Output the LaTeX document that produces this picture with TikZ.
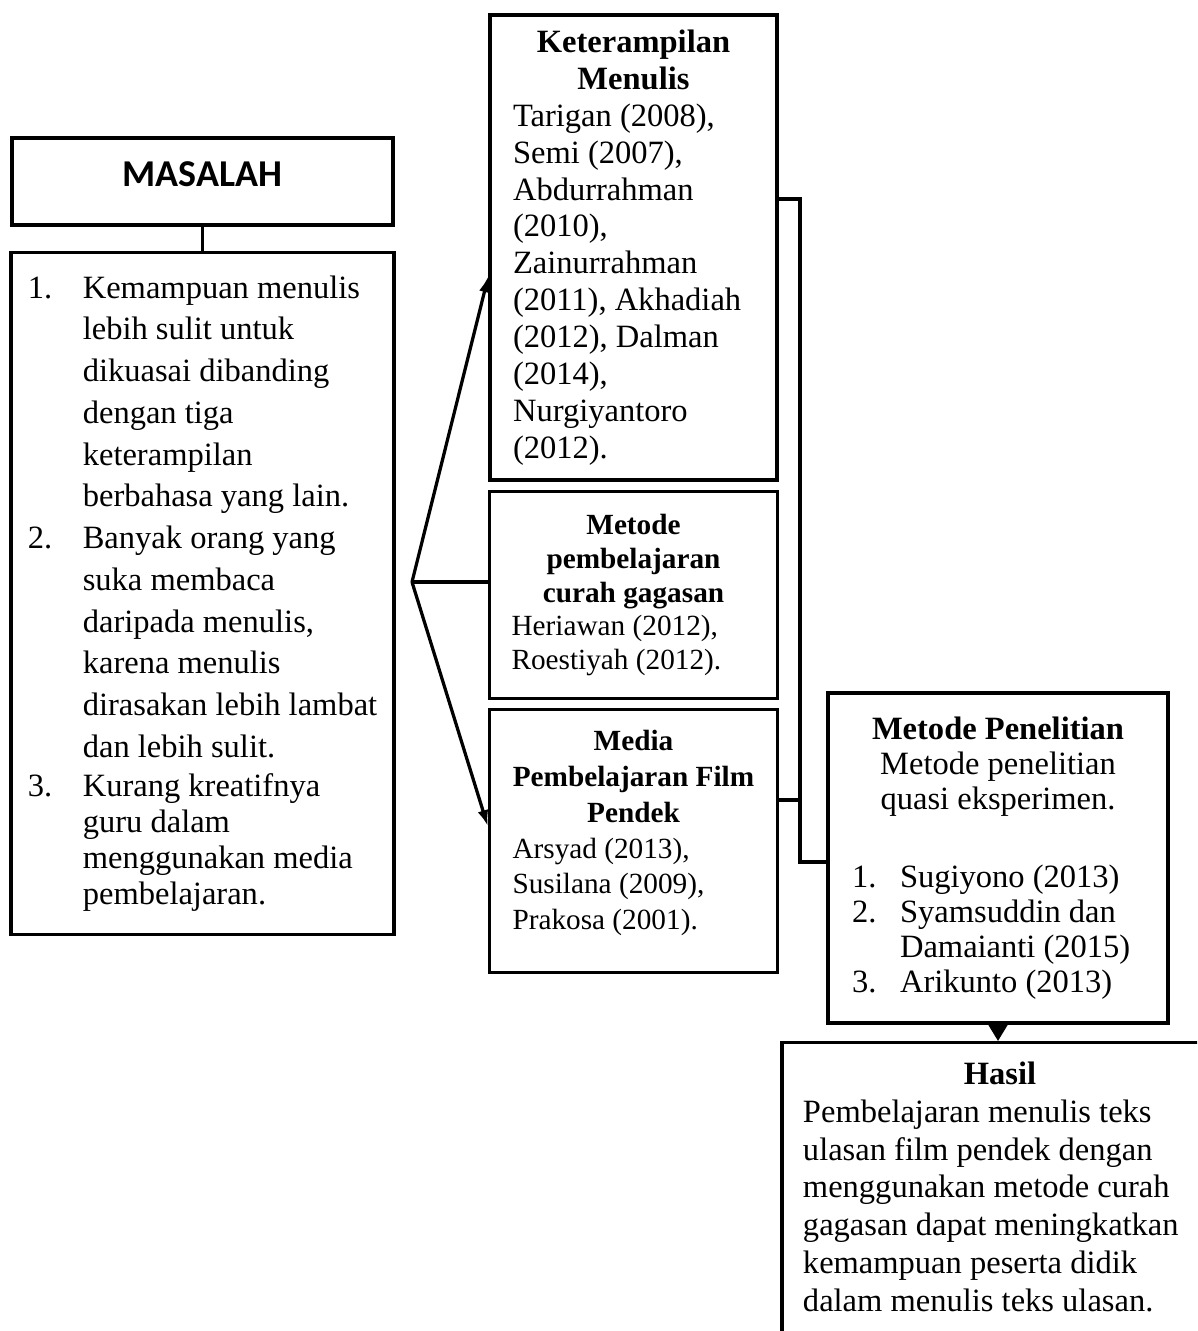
\documentclass[tikz,border=0pt]{standalone}
\usepackage{fontspec}
\setmainfont{Liberation Serif}
\newfontfamily\judulfont{Carlito}
\usetikzlibrary{positioning}
\usetikzlibrary{arrows.meta}
\tikzset{kotak/.style={rectangle,draw=black,fill=white,line width=1.2pt,
inner sep=0pt,align=left}}
\tikzset{kotakjudul/.style={rectangle,draw=black,fill=white,line width=1.2pt,
inner sep=0pt,font=\judulfont\bfseries\fontsize{14pt}{16pt}\selectfont}}
\tikzset{garis/.style={line width=1.2pt}}
\tikzset{panah/.style={line width=1.2pt,-{Latex[length=6pt,width=4pt]}}}

\begin{document}
\begin{tikzpicture}[x=0.369pt,y=-0.369pt]
        \useasboundingbox (0,0) rectangle (1197,1331);
        \clip (0,0) rectangle (1197,1331);

        \node[kotakjudul, minimum width=140.6pt, minimum height=32.1pt,
              text height=9pt, text depth=5pt] (masalah) at (202.5,181.5) {MASALAH};
        \node[kotak, minimum width=141.3pt, minimum height=251.7pt,
              font=\fontsize{12pt}{15.4pt}\selectfont] (daftar) [below=9pt of masalah] {%
            \makebox[20.3pt][l]{1.}Kemampuan menulis\\
            \hspace*{20.3pt}lebih sulit untuk\\
            \hspace*{20.3pt}dikuasai dibanding\\
            \hspace*{20.3pt}dengan tiga\\
            \hspace*{20.3pt}keterampilan\\
            \hspace*{20.3pt}berbahasa yang lain.\\
            \makebox[20.3pt][l]{2.}Banyak orang yang\\
            \hspace*{20.3pt}suka membaca\\
            \hspace*{20.3pt}daripada menulis,\\
            \hspace*{20.3pt}karena menulis\\
            \hspace*{20.3pt}dirasakan lebih lambat\\
            \hspace*{20.3pt}dan lebih sulit.\\[-0.8pt]
            \makebox[20.3pt][l]{3.}Kurang kreatifnya\\[-2.1pt]
            \hspace*{20.3pt}guru dalam\\[-2.1pt]
            \hspace*{20.3pt}menggunakan media\\[-2.1pt]
            \hspace*{20.3pt}pembelajaran.};

        \node[kotak, minimum width=105.9pt, minimum height=171.6pt,
              font=\fontsize{12pt}{13.6pt}\selectfont] (menulis) at (633.5,247.5) {%
            \makebox[88.9pt]{\bfseries Keterampilan}\\
            \makebox[88.9pt]{\bfseries Menulis}\\
            Tarigan (2008),\\
            Semi (2007),\\
            Abdurrahman\\
            (2010),\\
            Zainurrahman\\
            (2011), Akhadiah\\
            (2012), Dalman\\
            (2014),\\
            Nurgiyantoro\\
            (2012).};
        \node[kotak, minimum width=106.3pt, minimum height=76.4pt,
              font=\fontsize{10.8pt}{12.4pt}\selectfont] (curah) [below=3.1pt of menulis] {%
            \makebox[90pt]{\bfseries Metode}\\
            \makebox[90pt]{\bfseries pembelajaran}\\
            \makebox[90pt]{\bfseries curah gagasan}\\
            Heriawan (2012),\\
            Roestiyah (2012).};
        \node[kotak, minimum width=106.3pt, minimum height=97pt,
              font=\fontsize{10.8pt}{13.2pt}\selectfont] (media) [below=2.8pt of curah] {%
            \makebox[89.3pt]{\bfseries Media}\\
            \makebox[89.3pt]{\bfseries Pembelajaran Film}\\
            \makebox[89.3pt]{\bfseries Pendek}\\
            Arsyad (2013),\\
            Susilana (2009),\\
            Prakosa (2001).\rule[-8pt]{0pt}{0pt}};

        \node[kotak, align=center, minimum width=125.5pt, minimum height=121.8pt,
              font=\fontsize{12pt}{12.9pt}\selectfont] (metode) at (998,858) {%
            \textbf{Metode Penelitian}\\
            Metode penelitian\\
            quasi eksperimen.\\[15.9pt]
            \makebox[107.7pt][l]{\makebox[17.7pt][l]{1.}Sugiyono (2013)}\\
            \makebox[107.7pt][l]{\makebox[17.7pt][l]{2.}Syamsuddin dan}\\
            \makebox[107.7pt][l]{\hspace*{17.7pt}Damaianti (2015)}\\
            \makebox[107.7pt][l]{\makebox[17.7pt][l]{3.}Arikunto (2013)}};
        \node[kotak, anchor=north, minimum width=160.9pt, inner ysep=7pt,
              font=\fontsize{12pt}{14pt}\selectfont] (hasil) at (1000,1041) {%
            \makebox[145.4pt]{\bfseries Hasil}\\
            Pembelajaran menulis teks\\
            ulasan film pendek dengan\\
            menggunakan metode curah\\
            gagasan dapat meningkatkan\\
            kemampuan peserta didik\\
            dalam menulis teks ulasan.\rule[-60pt]{0pt}{0pt}};

        \coordinate (cabang) at (412,582);
        \coordinate (simpulatas) at (800,199);
        \coordinate (simpultengah) at (800,800);
        \coordinate (simpulbawah) at (800,862);

        \draw[garis] (masalah.south) -- (masalah.south |- daftar.north);
        \draw[panah] (cabang) -- ([yshift=-10.5pt]menulis.west);
        \draw[garis] (cabang) -- (curah.west |- cabang);
        \draw[panah] (cabang) -- ([yshift=5.4pt]media.west);
        \draw[garis] (menulis.east |- simpulatas) -- (simpulatas) -- (simpulbawah) -- (metode.west |- simpulbawah);
        \draw[garis] (media.east |- simpultengah) -- (simpultengah);
        \draw[garis,-{Triangle[length=6.5pt,width=7.5pt]}] (metode.south) -- (metode.south |- hasil.north);

    \end{tikzpicture}
\end{document}
